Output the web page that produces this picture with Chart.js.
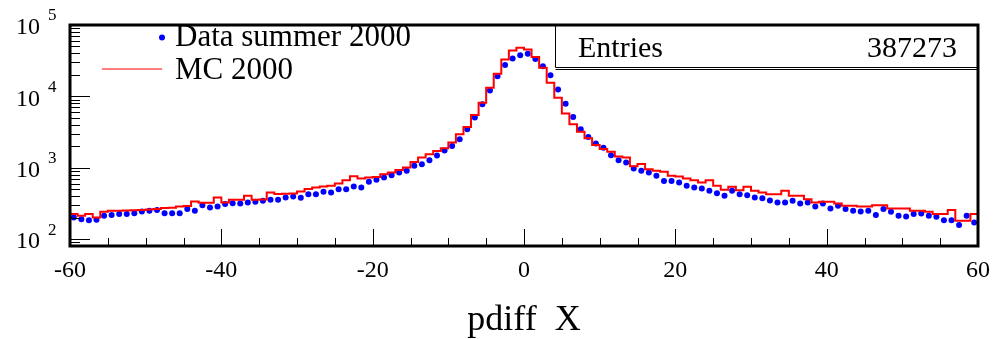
<!DOCTYPE html>
<html>
<head>
<meta charset="utf-8">
<title>pdiff X</title>
<script src="https://cdn.jsdelivr.net/npm/chart.js"></script>
<style>
    body { margin: 0; background: #fff; }
</style>
</head>
<body>
<canvas id="pdiffChart" width="995" height="339"></canvas>
<script>
    // histogram binning
    const xMin = -60, xMax = 60, nBins = 120;
    const xTicks = [-60, -40, -20, 0, 20, 40, 60];
    const yDecades = [100, 1000, 10000, 100000];
    const entries = 387273;

    // Data summer 2000 (blue points), one value per bin
    const dataSummer = [
        201, 190, 184, 186, 212, 217, 224, 224, 231, 244,
        249, 255, 231, 231, 231, 263, 249, 299, 277, 287,
        309, 319, 316, 326, 333, 344, 355, 355, 383, 395,
        378, 426, 426, 459, 450, 500, 500, 546, 529, 634,
        676, 729, 785, 857, 904, 1062, 1120, 1274, 1480, 1740,
        2020, 2500, 3450, 5040, 7730, 12100, 19200, 27400, 34000, 37800,
        39500, 33500, 26500, 19700, 12500, 7900, 5140, 3450, 2700, 2180,
        1900, 1490, 1274, 1181, 973, 904, 857, 769, 654, 654,
        621, 557, 529, 512, 474, 440, 404, 474, 426, 412,
        383, 374, 348, 326, 326, 344, 316, 326, 287, 316,
        269, 292, 263, 249, 244, 249, 217, 263, 241, 212,
        207, 224, 229, 212, 205, 184, 184, 158, 212, 171
    ];

    // MC 2000 (red histogram), one value per bin
    const mc2000 = [
        224, 212, 224, 201, 241, 249, 250, 252, 254, 256,
        260, 263, 272, 275, 287, 290, 336, 322, 322, 383,
        326, 355, 355, 404, 355, 358, 450, 430, 432, 436,
        466, 505, 530, 546, 560, 600, 670, 760, 706, 729,
        740, 811, 857, 932, 1005, 1205, 1387, 1545, 1720, 1875,
        2250, 2940, 3720, 5480, 8170, 13200, 20700, 32900, 44000, 48000,
        45400, 35500, 25200, 15500, 9600, 5730, 4060, 3200, 2590, 2090,
        1830, 1670, 1440, 1388, 1045, 1130, 953, 904, 875, 769,
        754, 706, 668, 621, 668, 557, 490, 540, 485, 540,
        474, 450, 426, 426, 474, 404, 404, 362, 326, 333,
        333, 316, 292, 292, 287, 287, 299, 299, 269, 269,
        269, 249, 249, 241, 224, 224, 255, 180, 180, 224
    ];

    const binWidth = (xMax - xMin) / nBins;
    const serif = '"Liberation Serif", "Times New Roman", serif';

    // points at bin centres
    let dataPoints = dataSummer.map((v, i) => ({x: xMin + (i + 0.5) * binWidth, y: v}));

    // step outline (value i spans edge i .. edge i+1), ends drop down to the axis
    let mcSteps = [{x: xMin, y: 1}];
    mc2000.forEach((v, i) => mcSteps.push({x: xMin + i * binWidth, y: v}));
    mcSteps.push({x: xMax, y: mc2000[mc2000.length - 1]});
    mcSteps.push({x: xMax, y: 1});

    const rootStyle = {
        id: 'rootStyle',
        afterDraw(chart) {
            const ctx = chart.ctx;
            const a = chart.chartArea;
            const x = chart.scales.x, y = chart.scales.y;
            ctx.save();
            ctx.strokeStyle = '#000';
            ctx.fillStyle = '#000';

            // inward tick marks
            ctx.lineWidth = 1;
            ctx.beginPath();
            for (let v = xMin; v <= xMax; v += 5) {
                const px = Math.round(x.getPixelForValue(v)) + 0.5;
                const len = v % 20 === 0 ? 17 : 8;
                ctx.moveTo(px, a.bottom);
                ctx.lineTo(px, a.bottom - len);
            }
            for (let d = 10; d <= 100000; d *= 10) {
                for (let m = 1; m < 10; m++) {
                    const v = d * m;
                    if (v < y.min || v > y.max) continue;
                    const py = Math.round(y.getPixelForValue(v)) + 0.5;
                    const len = m === 1 ? 20 : 10;
                    ctx.moveTo(a.left, py);
                    ctx.lineTo(a.left + len, py);
                }
            }
            ctx.stroke();

            // frame
            ctx.lineWidth = 3;
            ctx.strokeRect(a.left, a.top, a.right - a.left, a.bottom - a.top);

            // exponents of the y labels
            ctx.font = '17px ' + serif;
            ctx.textAlign = 'left';
            ctx.textBaseline = 'middle';
            yDecades.forEach(v => {
                ctx.fillText(String(Math.round(Math.log10(v))), 48, y.getPixelForValue(v) - 9);
            });

            // legend
            ctx.fillStyle = '#0000ff';
            ctx.beginPath();
            ctx.arc(162, 37.5, 3, 0, Math.PI * 2);
            ctx.fill();
            ctx.strokeStyle = '#ff0000';
            ctx.lineWidth = 1.2;
            ctx.beginPath();
            ctx.moveTo(102, 69);
            ctx.lineTo(162, 69);
            ctx.stroke();
            ctx.fillStyle = '#000';
            ctx.font = '31px ' + serif;
            ctx.textBaseline = 'alphabetic';
            ctx.fillText('Data summer 2000', 175, 46);
            ctx.fillText('MC 2000', 175, 79);

            // stats box
            ctx.fillStyle = '#fff';
            ctx.fillRect(556, a.top + 2, a.right - 558, 67 - a.top - 2);
            ctx.strokeStyle = '#000';
            ctx.lineWidth = 1;
            ctx.beginPath();
            ctx.moveTo(555.5, a.top);
            ctx.lineTo(555.5, 67.5);
            ctx.lineTo(a.right, 67.5);
            ctx.moveTo(555.5, 69.5);
            ctx.lineTo(a.right, 69.5);
            ctx.stroke();
            ctx.fillStyle = '#000';
            ctx.font = '30px ' + serif;
            ctx.textAlign = 'left';
            ctx.fillText('Entries', 578, 57);
            ctx.textAlign = 'right';
            ctx.fillText(String(entries), 957, 57);
            ctx.restore();
        }
    };

    let ctx = document.getElementById('pdiffChart').getContext('2d');
    let chart = new Chart(ctx, {
        type: 'scatter',
        data: {
            datasets: [{
                type: 'line',
                label: 'MC 2000',
                data: mcSteps,
                stepped: 'before',
                borderColor: '#ff0000',
                borderWidth: 2,
                pointRadius: 0,
                fill: false,
                order: 0
            }, {
                type: 'scatter',
                label: 'Data summer 2000',
                data: dataPoints,
                backgroundColor: '#0000ff',
                borderColor: '#0000ff',
                pointStyle: 'circle',
                pointRadius: 3,
                borderWidth: 0,
                order: 1
            }]
        },
        options: {
            responsive: false,
            animation: false,
            devicePixelRatio: 1,
            layout: {padding: {top: 25, right: 17, left: 0, bottom: 0}},
            plugins: {
                legend: {display: false},
                tooltip: {enabled: false}
            },
            scales: {
                x: {
                    type: 'linear',
                    min: xMin,
                    max: xMax,
                    grid: {display: false},
                    border: {display: false},
                    afterBuildTicks: scale => { scale.ticks = xTicks.map(v => ({value: v})); },
                    afterFit: scale => {
                        scale.height = 93;
                        scale.paddingLeft = 0;
                        scale.paddingRight = 0;
                    },
                    ticks: {
                        color: '#000',
                        font: {family: serif, size: 24},
                        padding: 2,
                        maxRotation: 0,
                        autoSkip: false
                    },
                    title: {
                        display: true,
                        text: 'pdiff  X',
                        color: '#000',
                        font: {family: serif, size: 36, lineHeight: 1},
                        padding: 0
                    }
                },
                y: {
                    type: 'logarithmic',
                    min: 80,
                    max: 100000,
                    grid: {display: false},
                    border: {display: false},
                    afterBuildTicks: scale => { scale.ticks = yDecades.map(v => ({value: v})); },
                    afterFit: scale => {
                        scale.width = 70;
                        scale.paddingTop = 0;
                        scale.paddingBottom = 0;
                    },
                    ticks: {
                        color: '#000',
                        font: {family: serif, size: 24},
                        padding: 22,
                        labelOffset: 3,
                        autoSkip: false,
                        callback: () => '10'
                    }
                }
            }
        },
        plugins: [rootStyle]
    });
</script>
</body>
</html>
